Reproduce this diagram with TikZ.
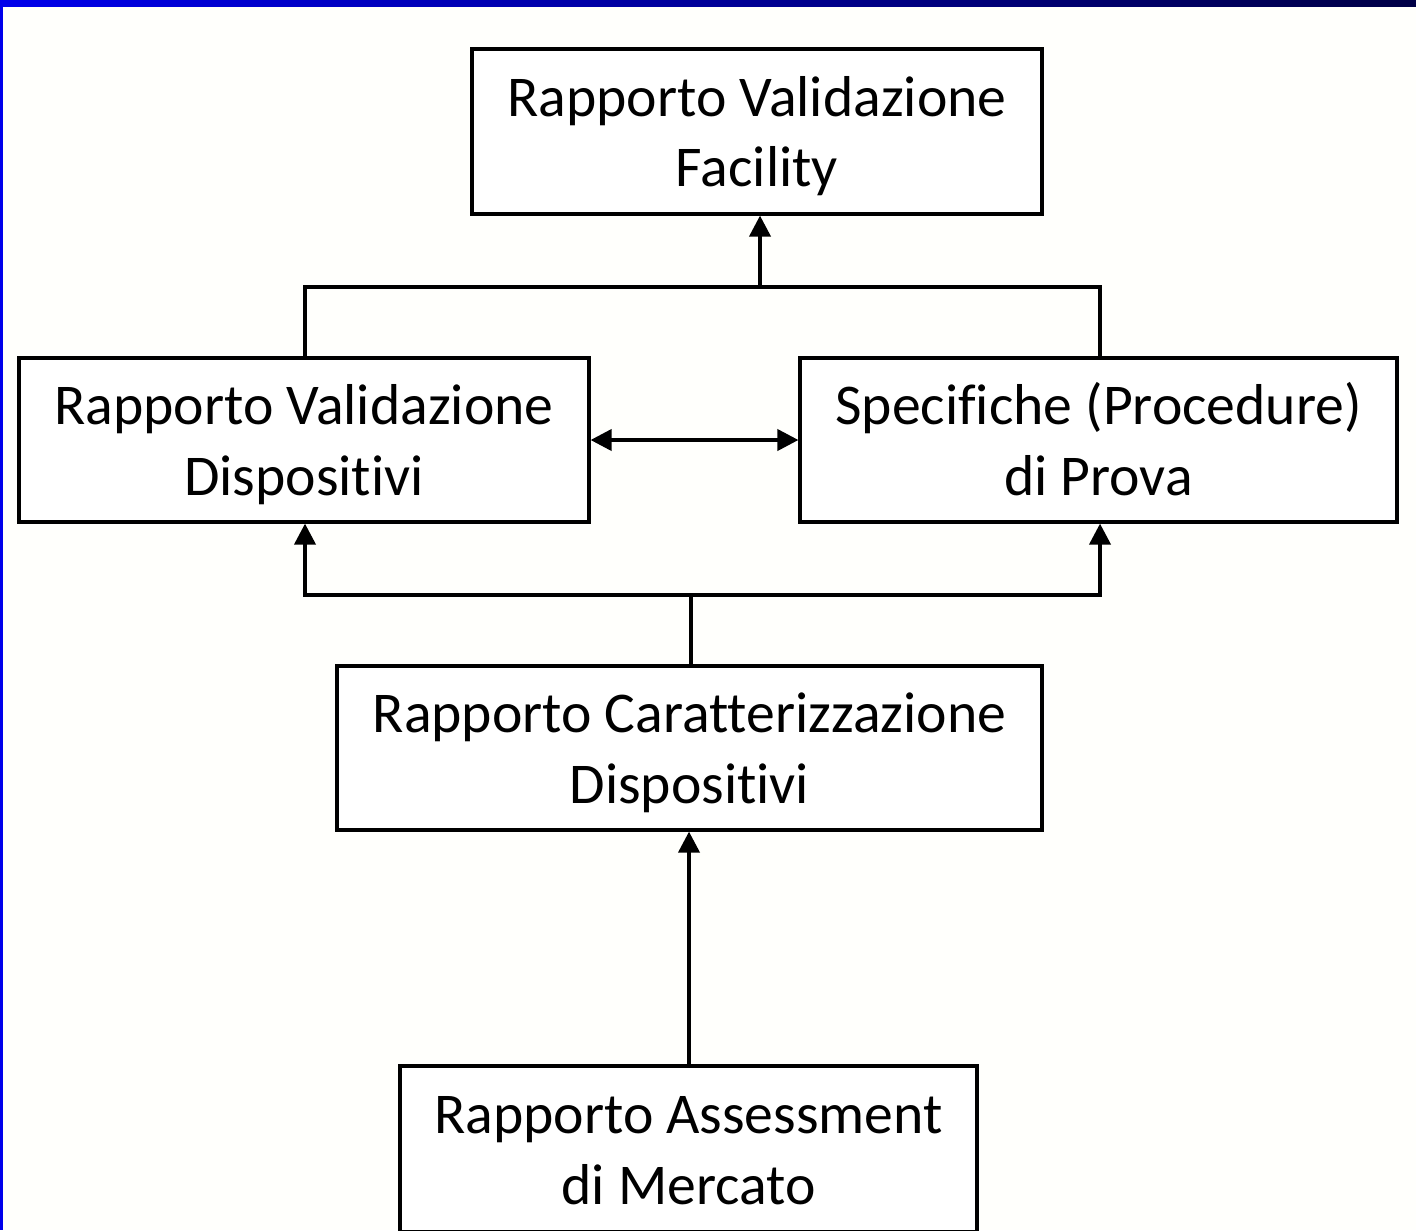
\documentclass[tikz,border=0pt]{standalone}
\usepackage{fontspec}
\setmainfont{Carlito}[Ligatures={NoCommon}]
\usetikzlibrary{arrows.meta}
\definecolor{bgcol}{RGB}{255,255,252}
\definecolor{barleft}{RGB}{0,0,235}
\definecolor{barright}{RGB}{0,0,70}
\tikzset{
  box/.style={draw=black, line width=0.9pt, fill=white, inner sep=0pt,
    font=\fontsize{16.4pt}{19.4pt}\selectfont},
  link/.style={line width=1.1pt, line cap=rect},
  arr/.style={link, -{Triangle[length=6pt,width=6pt]}},
  darr/.style={link, {Triangle[length=6pt,width=6pt]}-{Triangle[length=6pt,width=6pt]}}
}
\newcommand{\lowtxt}[1]{\raisebox{-0.06cm}[\height][\depth]{\renewcommand{\arraystretch}{1.03}\begin{tabular}{@{}c@{}}#1\end{tabular}}}
\begin{document}
\begin{tikzpicture}[x=0.01cm,y=-0.01cm]
\useasboundingbox (0,0) rectangle (1416,1230);
\clip (0,0) rectangle (1416,1230);
\fill[bgcol] (0,0) rectangle (1416,1230);
\shade[left color=barleft, right color=barright] (0,0) rectangle (1416,6);
\fill[barleft] (0,0) rectangle (2.5,1230);

\node[box, minimum width=570*0.01cm, minimum height=165*0.01cm] (fac) at (757,131.5) {\lowtxt{Rapporto Validazione\\Facility}};
\node[box, minimum width=570*0.01cm, minimum height=164*0.01cm] (disp) at (304,440) {\lowtxt{Rapporto Validazione\\Dispositivi}};
\node[box, minimum width=597*0.01cm, minimum height=164*0.01cm] (spec) at (1098.5,440) {\lowtxt{Specifiche (Procedure)\\di Prova}};
\node[box, minimum width=705*0.01cm, minimum height=164*0.01cm] (car) at (689.5,748) {\lowtxt{Rapporto Caratterizzazione\\Dispositivi}};
\node[box, minimum width=577*0.01cm, minimum height=166*0.01cm] (ass) at (688.5,1149) {\lowtxt{Rapporto Assessment\\di Mercato}};

\coordinate (jt) at (760,287);
\coordinate (jb) at (691,595);

\draw[link] (disp.north -| 305,0) |- (jt) -| (spec.north -| 1100,0);
\draw[arr] (jt) -- (fac.south -| jt);
\draw[darr] (disp.east) -- (spec.west);
\draw[link] (car.north -| jb) -- (jb);
\draw[arr] (jb) -| (disp.south -| 305,0);
\draw[arr] (jb) -| (spec.south -| 1100,0);
\draw[arr] (ass.north -| 689,0) -- (car.south -| 689,0);
\end{tikzpicture}
\end{document}
